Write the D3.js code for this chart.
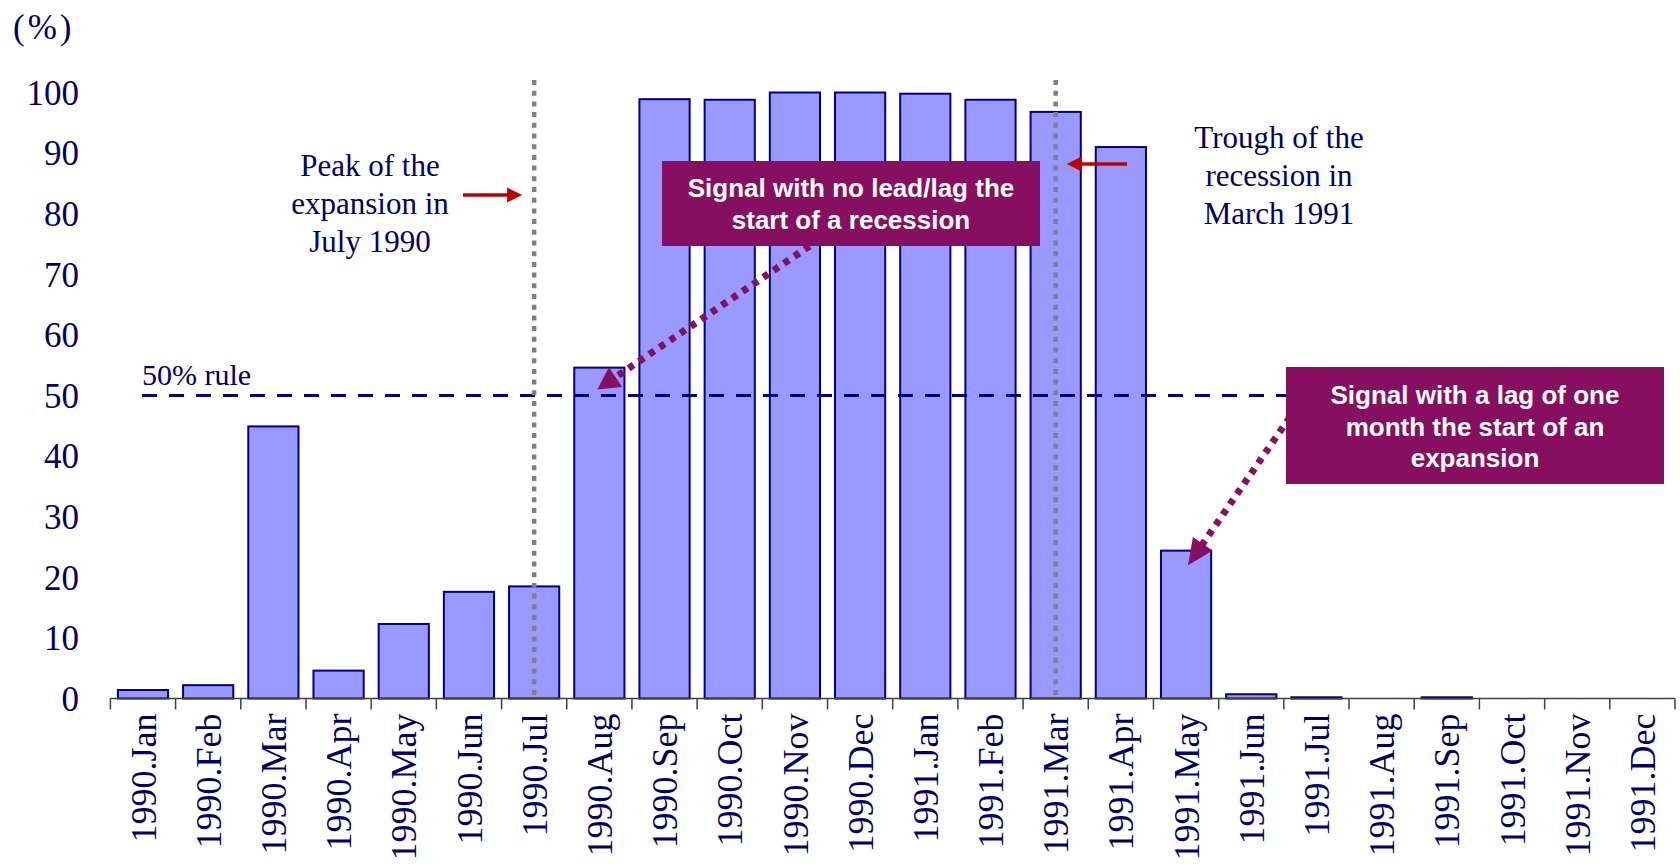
<!DOCTYPE html>
<html>
<head>
<meta charset="utf-8">
<script src="https://cdn.jsdelivr.net/npm/d3@7"></script>
<style>
  html, body { margin: 0; padding: 0; background: #fff; }
  svg { display: block; }
</style>
</head>
<body>
<svg id="chart" width="1680" height="868"></svg>
<script>
// Monthly recession probability (%), 1990–1991
const months = [
  "1990.Jan","1990.Feb","1990.Mar","1990.Apr","1990.May","1990.Jun",
  "1990.Jul","1990.Aug","1990.Sep","1990.Oct","1990.Nov","1990.Dec",
  "1991.Jan","1991.Feb","1991.Mar","1991.Apr","1991.May","1991.Jun",
  "1991.Jul","1991.Aug","1991.Sep","1991.Oct","1991.Nov","1991.Dec"
];
const probability = [
  1.4, 2.2, 44.9, 4.6, 12.3, 17.6,
  18.5, 54.6, 98.9, 98.8, 100, 100,
  99.8, 98.8, 96.8, 91.0, 24.4, 0.7,
  0.2, 0, 0.2, 0, 0, 0
];
const yTicks = [0, 10, 20, 30, 40, 50, 60, 70, 80, 90, 100];
const ruleLevel = 50;
const peakMonth = "1990.Jul";
const troughMonth = "1991.Mar";

const svg = d3.select("#chart");
const navy = "#000066";
const purple = "#870F61";
const red = "#C00000";

const x = d3.scaleBand()
  .domain(months)
  .range([110.4, 1675])
  .paddingInner(0.23)
  .paddingOuter(0.115);
const y = d3.scaleLinear().domain([0, 100]).range([698.5, 92.5]);
const step = x.step();
const xc = m => x(m) + x.bandwidth() / 2;

// bars
svg.append("g").selectAll("rect")
  .data(months)
  .join("rect")
  .attr("x", d => x(d))
  .attr("width", x.bandwidth())
  .attr("y", (d, i) => y(probability[i]))
  .attr("height", (d, i) => y(0) - y(probability[i]))
  .attr("fill", "#9999FF")
  .attr("stroke", "#000080")
  .attr("stroke-width", 2);

// category axis: ticks on band boundaries, labels rotated
const axis = svg.append("g");
axis.append("line")
  .attr("x1", x.range()[0]).attr("x2", x.range()[1])
  .attr("y1", y(0)).attr("y2", y(0))
  .attr("stroke", "#404040").attr("stroke-width", 1.5);
const bounds = d3.range(months.length + 1).map(i => x.range()[0] + i * step);
axis.selectAll("line.tick")
  .data(bounds)
  .join("line")
  .attr("class", "tick")
  .attr("x1", d => d).attr("x2", d => d)
  .attr("y1", y(0)).attr("y2", y(0) + 11)
  .attr("stroke", "#404040").attr("stroke-width", 1.5);
axis.selectAll("text")
  .data(months)
  .join("text")
  .attr("transform", d => `translate(${xc(d)},${y(0) + 15}) rotate(-90)`)
  .attr("dy", "0.35em")
  .attr("text-anchor", "end")
  .attr("font-family", "'Liberation Serif', 'Times New Roman', serif")
  .attr("font-size", 36)
  .attr("fill", navy)
  .text(d => d);

// value axis labels
svg.append("g").selectAll("text")
  .data(yTicks)
  .join("text")
  .attr("x", 79)
  .attr("y", d => y(d))
  .attr("dy", "0.35em")
  .attr("text-anchor", "end")
  .attr("font-family", "'Liberation Serif', 'Times New Roman', serif")
  .attr("font-size", 35)
  .attr("fill", navy)
  .text(d => d);

svg.append("text")
  .attr("x", 13).attr("y", 39)
  .attr("font-family", "'Liberation Serif', 'Times New Roman', serif")
  .attr("font-size", 35)
  .attr("letter-spacing", 3)
  .attr("fill", navy)
  .text("(%)");

// 50% rule line
svg.append("line")
  .attr("x1", 142).attr("x2", 1286)
  .attr("y1", y(ruleLevel)).attr("y2", y(ruleLevel))
  .attr("stroke", "#000080").attr("stroke-width", 3)
  .attr("stroke-dasharray", "15,12");
svg.append("text")
  .attr("x", 142).attr("y", y(ruleLevel) - 11)
  .attr("font-family", "'Liberation Serif', 'Times New Roman', serif")
  .attr("font-size", 30)
  .attr("fill", navy)
  .text("50% rule");

// peak / trough reference lines
svg.append("g").selectAll("line")
  .data([peakMonth, troughMonth])
  .join("line")
  .attr("x1", d => xc(d)).attr("x2", d => xc(d))
  .attr("y1", 80).attr("y2", y(0))
  .attr("stroke", "#808080").attr("stroke-width", 4.5)
  .attr("stroke-dasharray", "5,5.7");

// arrow helper: shaft ends at the base of a filled triangular head
function arrow(tail, tip, color, width, dash, headLen, headHalf) {
  const dx = tip[0] - tail[0], dy = tip[1] - tail[1];
  const len = Math.hypot(dx, dy);
  const ux = dx / len, uy = dy / len;
  const base = [tip[0] - ux * headLen, tip[1] - uy * headLen];
  const g = svg.append("g");
  g.append("line")
    .attr("x1", tail[0]).attr("y1", tail[1])
    .attr("x2", base[0] + ux * 2).attr("y2", base[1] + uy * 2)
    .attr("stroke", color).attr("stroke-width", width)
    .attr("stroke-dasharray", dash);
  const p1 = [base[0] - uy * headHalf, base[1] + ux * headHalf];
  const p2 = [base[0] + uy * headHalf, base[1] - ux * headHalf];
  g.append("path")
    .attr("d", d3.line()([tip, p1, p2]) + "Z")
    .attr("fill", color);
}

// red arrows toward the reference lines
arrow([463, 195], [xc(peakMonth) - 12, 195], red, 3.5, null, 15, 7.5);
arrow([1127, 164], [xc(troughMonth) + 11, 164], red, 3.5, null, 15, 7.5);

// dotted callout arrows
arrow([820, 239], [xc("1990.Aug") - 2, y(51)], purple, 7, "6,6.5", 22, 12);
arrow([1290, 417], [xc("1991.May") + 2, y(22)], purple, 7, "6,6.5", 26, 12);

// callout boxes
const boxes = [
  { x: 662, y: 161, w: 378, h: 85, lines: ["Signal with no lead/lag the", "start of a recession"], first: 188, gap: 32 },
  { x: 1286, y: 367, w: 378, h: 117, lines: ["Signal with a lag of one", "month the start of an", "expansion"], first: 395, gap: 31.5 }
];
boxes.forEach(b => {
  svg.append("rect")
    .attr("x", b.x).attr("y", b.y).attr("width", b.w).attr("height", b.h)
    .attr("fill", purple);
  svg.append("g").selectAll("text")
    .data(b.lines)
    .join("text")
    .attr("x", b.x + b.w / 2)
    .attr("y", (d, i) => b.first + i * b.gap)
    .attr("dy", "0.35em")
    .attr("text-anchor", "middle")
    .attr("font-family", "'Liberation Sans', Arial, sans-serif")
    .attr("font-weight", "bold")
    .attr("font-size", 26)
    .attr("fill", "#fff")
    .text(d => d);
});

// text notes
const notes = [
  { cx: 370, first: 176, lines: ["Peak of the", "expansion in", "July 1990"] },
  { cx: 1279, first: 148, lines: ["Trough of the", "recession in", "March 1991"] }
];
notes.forEach(n => {
  svg.append("g").selectAll("text")
    .data(n.lines)
    .join("text")
    .attr("x", n.cx)
    .attr("y", (d, i) => n.first + i * 38)
    .attr("text-anchor", "middle")
    .attr("font-family", "'Liberation Serif', 'Times New Roman', serif")
    .attr("font-size", 31)
    .attr("fill", navy)
    .text(d => d);
});
</script>
</body>
</html>
